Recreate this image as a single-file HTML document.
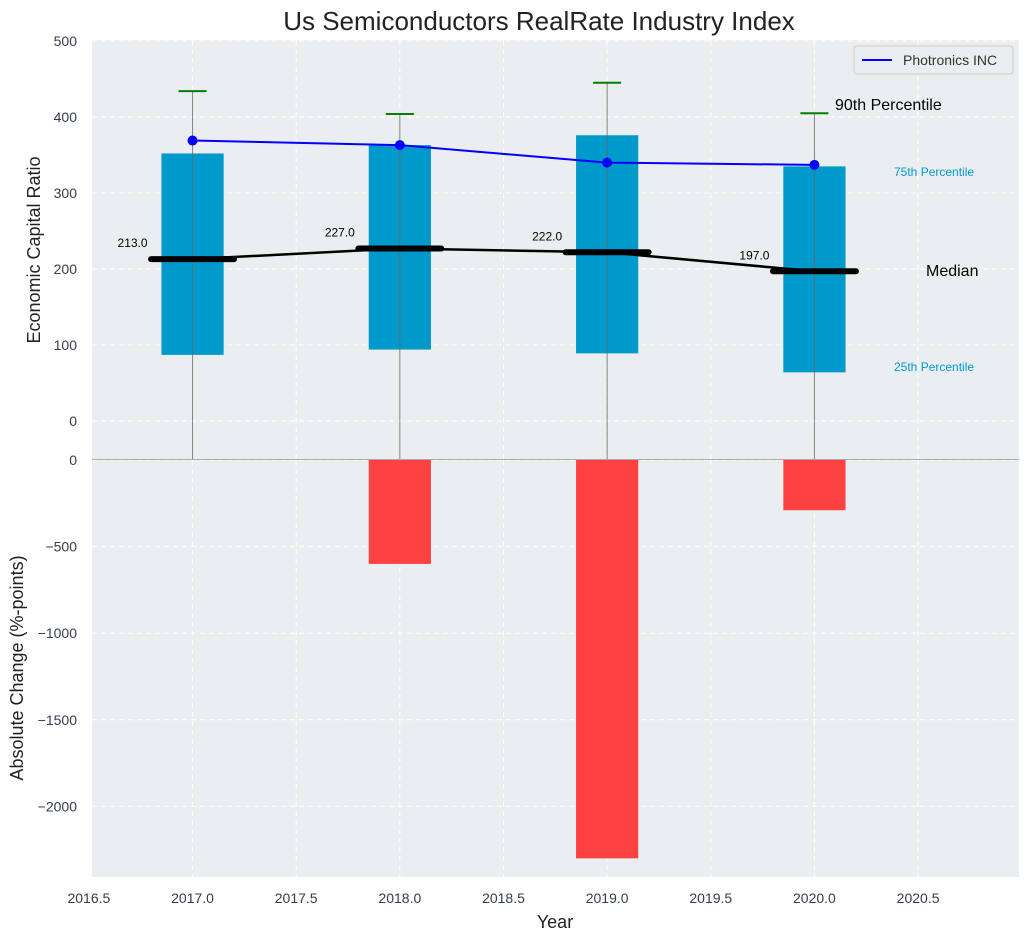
<!DOCTYPE html>
<html><head><meta charset="utf-8"><style>
body{margin:0;background:#fff;font-family:"Liberation Sans",sans-serif}
svg text{font-family:"Liberation Sans",sans-serif}
</style></head><body>
<svg id="c" width="1029" height="940" xmlns="http://www.w3.org/2000/svg"></svg>
<script>
const years=[2017,2018,2019,2020];
const p25=[87,94,89,64];
const p75=[352,363,376,335];
const p90=[434,404,445,405];
const medians=[213,227,222,197];
const company=[369,363,340,337];
const changes=[0,-600,-2300,-290];
const topTicks=[0,100,200,300,400,500];
const botTicks=[0,-500,-1000,-1500,-2000];
const xTicks=[2016.5,2017,2017.5,2018,2018.5,2019,2019.5,2020,2020.5];

const svg=document.getElementById('c');
const NS='http://www.w3.org/2000/svg';
function el(t,a,p){const e=document.createElementNS(NS,t);for(const k in a)e.setAttribute(k,a[k]);(p||svg).appendChild(e);return e;}
const L=92,R=1019;
const X=v=>L+(v-2016.515)*207.3;
const Yt=v=>421-v*0.76;
const Yb=v=>460-v*0.1732;

let g=el('rect',{x:L,y:40,width:R-L,height:419,fill:'#eaeef0'});

g=el('rect',{x:L,y:459,width:R-L,height:418,fill:'#eaeef0'});

const grid={stroke:'#fff','stroke-dasharray':'5,4','stroke-width':1};
xTicks.forEach(t=>{el('line',Object.assign({x1:X(t),x2:X(t),y1:40,y2:459},grid));el('line',Object.assign({x1:X(t),x2:X(t),y1:460,y2:877},grid));
 const tx=el('text',{x:X(t),y:903,'text-anchor':'middle','font-size':14,fill:'#333d4c'});tx.textContent=t.toFixed(1);
 });
topTicks.forEach(t=>{el('line',Object.assign({x1:L,x2:R,y1:Yt(t),y2:Yt(t)},grid));
 const tx=el('text',{x:77,y:Yt(t)+5,'text-anchor':'end','font-size':14,fill:'#333d4c'});tx.textContent=t;
 });
botTicks.forEach(t=>{el('line',Object.assign({x1:L,x2:R,y1:Yb(t),y2:Yb(t)},grid));
 const tx=el('text',{x:77,y:Yb(t)+5,'text-anchor':'end','font-size':14,fill:'#333d4c'});tx.textContent=t<0?'\u2212'+(-t):t;
 });

const hw=0.15*207.3;
years.forEach((y,i)=>{
 let b=el('rect',{x:X(y)-hw,y:Yt(p75[i]),width:2*hw,height:Yt(p25[i])-Yt(p75[i]),fill:'#0099cc'});
 
 let w=el('line',{x1:X(y),x2:X(y),y1:Yt(p90[i]),y2:459,stroke:'#666','stroke-width':1,opacity:0.8});
 
 let c=el('line',{x1:X(y)-14,x2:X(y)+14,y1:Yt(p90[i]),y2:Yt(p90[i]),stroke:'#008000','stroke-width':2});
 
 if(changes[i]!==0){let r=el('rect',{x:X(y)-hw,y:Yb(0),width:2*hw,height:Yb(changes[i])-Yb(0),fill:'#ff3333',opacity:0.92});
 }
});
let mp=years.map((y,i)=>X(y)+','+Yt(medians[i])).join(' ');
let ml=el('polyline',{points:mp,fill:'none',stroke:'#000','stroke-width':2.5});

years.forEach((y,i)=>{
 let m=el('line',{x1:X(y)-0.2*207.3,x2:X(y)+0.2*207.3,y1:Yt(medians[i]),y2:Yt(medians[i]),stroke:'#000','stroke-width':6,'stroke-linecap':'round'});
 
 let t=el('text',{x:X(y)-60,y:Yt(medians[i])-12,'text-anchor':'middle','font-size':12,fill:'#000'});t.textContent=medians[i].toFixed(1);
 
});
let cp=years.map((y,i)=>X(y)+','+Yt(company[i])).join(' ');
let cl=el('polyline',{points:cp,fill:'none',stroke:'#0000ff','stroke-width':2});

years.forEach((y,i)=>{let d=el('circle',{cx:X(y),cy:Yt(company[i]),r:5,fill:'#0000ff'});
 });

el('line',{x1:L,x2:R,y1:459.5,y2:459.5,stroke:'#aaa','stroke-width':1});
const ann=[['90th Percentile',835,110,16,'#000'],['75th Percentile',894,176,12,'#0099cc'],['Median',926,276,16,'#000'],['25th Percentile',894,371,12,'#0099cc']];
ann.forEach(a=>{let t=el('text',{x:a[1],y:a[2],'font-size':a[3],fill:a[4]});t.textContent=a[0];
 });

let lg=el('g',{});
el('rect',{x:854,y:46,width:159,height:28,rx:3,fill:'#eaeef0',stroke:'#ccc'},lg);
el('line',{x1:862,x2:892,y1:60,y2:60,stroke:'#0000ff','stroke-width':2},lg);
let lt=el('text',{x:903,y:65,'font-size':14,fill:'#333'},lg);lt.textContent='Photronics INC';

let t=el('text',{x:539,y:30,'text-anchor':'middle','font-size':26,fill:'#222'});t.textContent='Us Semiconductors RealRate Industry Index';

t=el('text',{x:555,y:928,'text-anchor':'middle','font-size':18,fill:'#222'});t.textContent='Year';

t=el('text',{x:0,y:0,'text-anchor':'middle','font-size':18,fill:'#222',transform:'translate(40,250) rotate(-90)'});t.textContent='Economic Capital Ratio';

t=el('text',{x:0,y:0,'text-anchor':'middle','font-size':18,fill:'#222',transform:'translate(23,668) rotate(-90)'});t.textContent='Absolute Change (%-points)';

</script>
</body></html>
